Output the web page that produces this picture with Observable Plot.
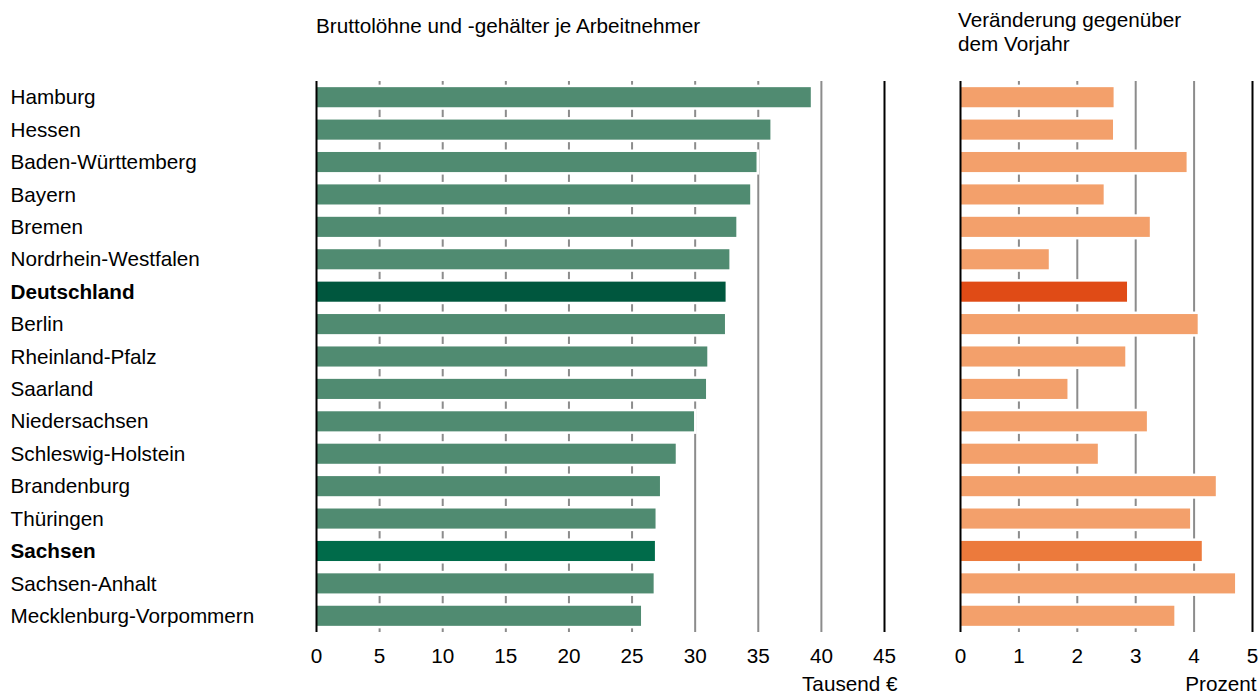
<!DOCTYPE html>
<html><head><meta charset="utf-8">
<script src="https://cdn.jsdelivr.net/npm/d3@7"></script>
<script src="https://cdn.jsdelivr.net/npm/@observablehq/plot@0.6"></script>
<style>
body{margin:0;background:#fff;font-family:"Liberation Sans",Arial,sans-serif;}
#wrap{position:relative;width:1258px;height:697px;overflow:hidden;}
.t{position:absolute;font-size:20.7px;color:#000;line-height:24px;white-space:nowrap;}
#left,#right{position:absolute;top:0;}
</style></head><body>
<div id="wrap">
<div class="t" style="left:316px;top:14px">Bruttolöhne und -gehälter je Arbeitnehmer</div>
<div class="t" style="left:958px;top:8px">Veränderung gegenüber<br>dem Vorjahr</div>
<div id="left" style="left:0"></div>
<div id="right" style="left:900px"></div>
</div>
<script>
const states = ["Hamburg","Hessen","Baden-Württemberg","Bayern","Bremen","Nordrhein-Westfalen","Deutschland","Berlin","Rheinland-Pfalz","Saarland","Niedersachsen","Schleswig-Holstein","Brandenburg","Thüringen","Sachsen","Sachsen-Anhalt","Mecklenburg-Vorpommern"];
const wages = [39.2,36.0,34.9,34.4,33.3,32.75,32.45,32.4,31.0,30.9,29.95,28.5,27.25,26.9,26.85,26.75,25.75];
const changes = [2.63,2.62,3.88,2.46,3.25,1.52,2.86,4.07,2.83,1.84,3.2,2.36,4.38,3.94,4.14,4.71,3.67];
const boldStates = ["Deutschland","Sachsen"];
const wageTicks = [0,5,10,15,20,25,30,35,40,45];
const changeTicks = [0,1,2,3,4,5];
const wageColors = {base:"#508b71", Deutschland:"#00573e", Sachsen:"#006b4a"};
const changeColors = {base:"#f3a06b", Deutschland:"#e04b16", Sachsen:"#ec7a3c"};

const rows = states.map((s,i)=>({state:s, wage:wages[i], change:changes[i]}));
const font = {fontFamily:"'Liberation Sans', Arial, sans-serif", fontSize:"20.7px", color:"#000", background:"transparent", overflow:"visible"};
const yOpts = {domain: states, paddingInner: 0.38, paddingOuter: 0.19, round: false, axis: null};

const left = Plot.plot({
  width: 900, height: 697, marginLeft: 316, marginRight: 16, marginTop: 81, marginBottom: 65,
  style: font,
  x: {domain: [0,45], axis: null},
  y: yOpts,
  color: {type: "identity"},
  marks: [
    Plot.ruleX(wageTicks.filter(t=>t>0 && t<45), {stroke:"#8c8c8c", strokeWidth:2}),
    Plot.barX(rows, {x:"wage", y:"state", fill: d => wageColors[d.state] || wageColors.base, stroke:"white", strokeWidth:5, paintOrder:"stroke"}),
    Plot.ruleX([0,45], {stroke:"#000", strokeWidth:2}),
    Plot.axisX({ticks: wageTicks, tickSize:0, tickPadding:16, label:null, tickFormat: d3.format("d"), fontSize:20.7}),
    Plot.text(rows.filter(d=>!boldStates.includes(d.state)), {y:"state", text:"state", frameAnchor:"left", textAnchor:"start", dx:-306, fill:"#000"}),
    Plot.text(rows.filter(d=>boldStates.includes(d.state)), {y:"state", text:"state", frameAnchor:"left", textAnchor:"start", dx:-306, fill:"#000", fontWeight:"bold"}),
    Plot.text(["Tausend €"], {text: d=>d, frameAnchor:"bottom-right", textAnchor:"end", dx:13, dy:58, fill:"#000"})
  ]
});
document.getElementById("left").appendChild(left);

const right = Plot.plot({
  width: 358, height: 697, marginLeft: 60, marginRight: 6, marginTop: 81, marginBottom: 65,
  style: font,
  x: {domain: [0,5], axis: null},
  y: yOpts,
  color: {type: "identity"},
  marks: [
    Plot.ruleX(changeTicks.filter(t=>t>0 && t<5), {stroke:"#8c8c8c", strokeWidth:2}),
    Plot.barX(rows, {x:"change", y:"state", fill: d => changeColors[d.state] || changeColors.base, stroke:"white", strokeWidth:5, paintOrder:"stroke"}),
    Plot.ruleX([0,5], {stroke:"#000", strokeWidth:2}),
    Plot.axisX({ticks: changeTicks, tickSize:0, tickPadding:16, label:null, tickFormat: d3.format("d"), fontSize:20.7}),
    Plot.text(["Prozent"], {text: d=>d, frameAnchor:"bottom-right", textAnchor:"end", dx:4, dy:58, fill:"#000"})
  ]
});
document.getElementById("right").appendChild(right);
</script>
</body></html>
